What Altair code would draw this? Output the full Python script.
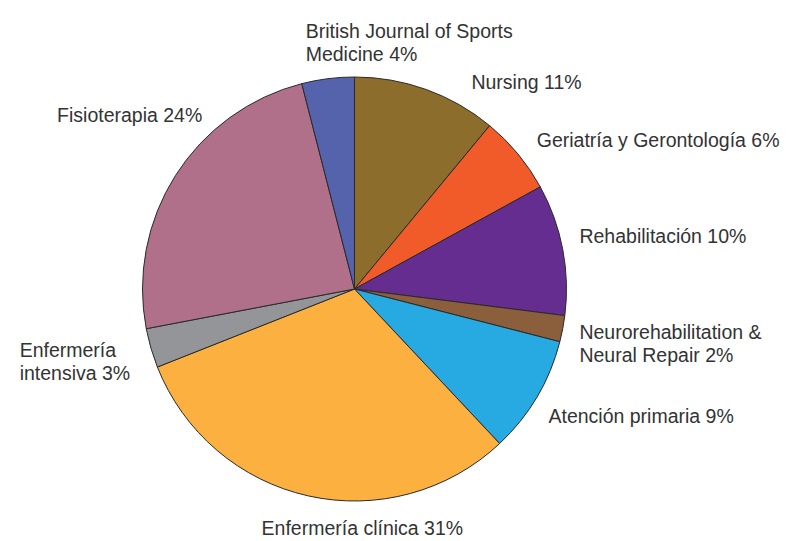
import altair as alt
import pandas as pd

categories = [
    "Nursing",
    "Geriatría y Gerontología",
    "Rehabilitación",
    "Neurorehabilitation & Neural Repair",
    "Atención primaria",
    "Enfermería clínica",
    "Enfermería intensiva",
    "Fisioterapia",
    "British Journal of Sports Medicine",
]
shares = [11, 6, 10, 2, 9, 31, 3, 24, 4]
labels = [
    "Nursing 11%",
    "Geriatría y Gerontología 6%",
    "Rehabilitación 10%",
    "Neurorehabilitation &\nNeural Repair 2%",
    "Atención primaria 9%",
    "Enfermería clínica 31%",
    "Enfermería\nintensiva 3%",
    "Fisioterapia 24%",
    "British Journal of Sports\nMedicine 4%",
]
colors = [
    "#8c6d2c",
    "#f15a29",
    "#662d91",
    "#8b5e3c",
    "#27aae1",
    "#fbb040",
    "#939598",
    "#b07089",
    "#5563ac",
]

# layout / style (not data)
CX, CY = 346.5, 281.0
R_PIE = 212
R_LAB = 230
FONT = "Liberation Sans"
FSIZE = 19.5
TCOLOR = "#333333"
label_style = [
    dict(align="left", dx=39, dy=10),
    dict(align="left", dx=5, dy=-1),
    dict(align="left", dx=-1, dy=-9),
    dict(align="left", dx=-1, dy=1),
    dict(align="left", dx=-4, dy=11),
    dict(align="center", dx=58, dy=16),
    dict(align="left", dx=-114, dy=-2),
    dict(align="right", dx=42, dy=-50),
    dict(align="left", dx=-20, dy=-29),
]

df = pd.DataFrame({
    "idx": list(range(len(categories))),
    "cat": categories,
    "share": shares,
    "label": labels,
})

base = alt.Chart(df)

pie = base.mark_arc(outerRadius=R_PIE, stroke="#2a2a2a", strokeWidth=1).encode(
    theta=alt.Theta("share:Q", stack=True),
    order=alt.Order("idx:Q"),
    color=alt.Color("cat:N", scale=alt.Scale(domain=categories, range=colors), legend=None),
    x=alt.value(CX),
    y=alt.value(CY),
)

layers = [pie]
for i, st in enumerate(label_style):
    t = (
        base.transform_window(cum="sum(share)", sort=[alt.SortField("idx")], frame=[None, 0])
        .transform_joinaggregate(total="sum(share)")
        .transform_calculate(mid="2*PI*(datum.cum - datum.share/2)/datum.total")
        .transform_filter(alt.datum.idx == i)
        .mark_text(
            align=st["align"], baseline="middle", dx=st["dx"], dy=st["dy"],
            radius=R_LAB, font=FONT, fontSize=FSIZE, color=TCOLOR,
            lineBreak="\n", lineHeight=23,
        )
        .encode(
            theta=alt.Theta("mid:Q", scale=None),
            text="label:N",
            x=alt.value(CX),
            y=alt.value(CY),
        )
    )
    layers.append(t)

chart = (
    alt.layer(*layers)
    .properties(width=772, height=533, padding=0, autosize="none", background="white")
    .configure_view(stroke=None)
)

chart.save("out.html", embed_options={"renderer": "svg", "actions": False})
